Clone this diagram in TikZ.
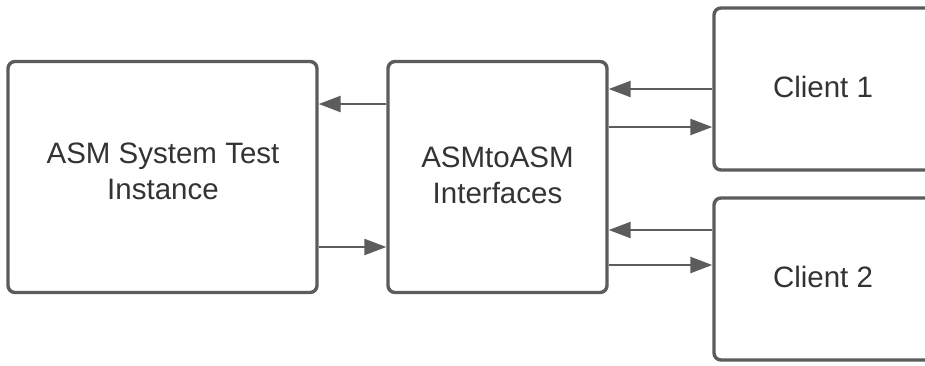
\documentclass[tikz,border=0pt]{standalone}
\usepackage{fontspec}
\setmainfont{Liberation Sans}
\usetikzlibrary{arrows.meta}
\definecolor{edgegray}{HTML}{5C5C5C}
\definecolor{txtgray}{HTML}{333333}
\begin{document}
\begin{tikzpicture}[x=1pt,y=-1pt,
  box/.style={draw=edgegray, line width=3.4pt, rounded corners=7pt, fill=white,
    inner sep=0pt, align=center, text=txtgray, font=\fontsize{29.5}{36}\selectfont},
  arr/.style={draw=edgegray, line width=2.4pt, -{Triangle[length=22pt,width=16pt]}}]
\fill[white] (0,0) rectangle (925,365);
\useasboundingbox (0,0) rectangle (925,365);
\node[box, minimum width=309pt, minimum height=231pt] (sys) at (162.5,177) {};
\node[box, minimum width=219pt, minimum height=231pt] (a2a) at (497.5,177) {};
\node[box, minimum width=218pt, minimum height=162pt] (c1) at (823,89) {};
\node[box, minimum width=218pt, minimum height=162pt] (c2) at (823,279) {};
\node[box, draw=none, fill=none] (sysT) at (163,171) {ASM System Test\\Instance};
\node[box, draw=none, fill=none] (a2aT) at (497.5,175) {ASMtoASM\\Interfaces};
\node[box, draw=none, fill=none] (c1T) at (823,87) {Client 1};
\node[box, draw=none, fill=none] (c2T) at (823,277) {Client 2};
\draw[arr] (a2a.west |- 0,104) -- (sys.east |- 0,104);
\draw[arr] (sys.east |- 0,247) -- (a2a.west |- 0,247);
\draw[arr] (c1.west |- 0,89) -- (a2a.east |- 0,89);
\draw[arr] (a2a.east |- 0,127) -- (c1.west |- 0,127);
\draw[arr] (c2.west |- 0,230) -- (a2a.east |- 0,230);
\draw[arr] (a2a.east |- 0,265) -- (c2.west |- 0,265);
\end{tikzpicture}
\end{document}
